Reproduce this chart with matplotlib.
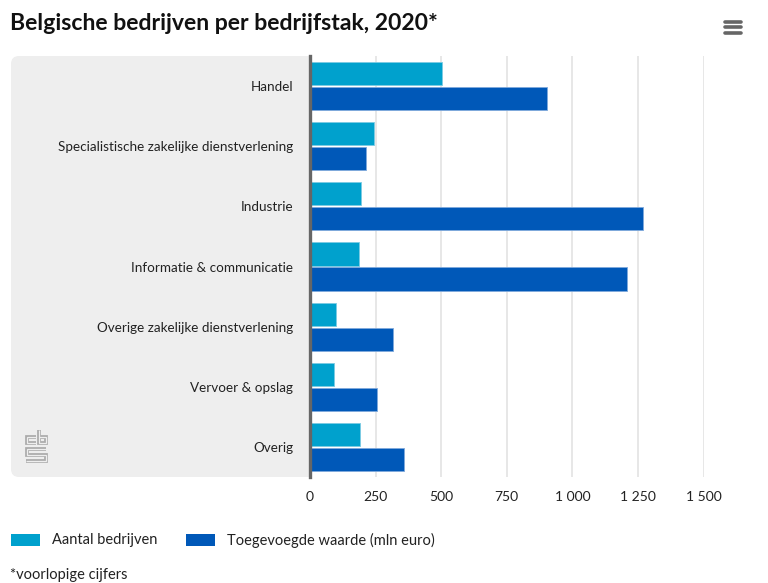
import matplotlib
matplotlib.use("Agg")
import matplotlib.pyplot as plt
from matplotlib.patches import FancyBboxPatch, Rectangle

categories = ["Handel", "Specialistische zakelijke dienstverlening", "Industrie",
              "Informatie & communicatie", "Overige zakelijke dienstverlening",
              "Vervoer & opslag", "Overig"]
aantal = [505, 244, 194, 185, 98, 90, 190]
waarde = [903, 213, 1269, 1208, 316, 254, 358]
ticks = [0, 250, 500, 750, 1000, 1250, 1500]
tick_labels = ["0", "250", "500", "750", "1 000", "1 250", "1 500"]
names = ["Aantal bedrijven", "Toegevoegde waarde (mln euro)"]
title = "Belgische bedrijven per bedrijfstak, 2020*"
note = "*voorlopige cijfers"

C1, C2 = "#00A1CD", "#0058B8"
TXT = "#222222"
plt.rcParams["font.family"] = ["Lato", "DejaVu Sans"]

W, H = 768, 583
fig = plt.figure(figsize=(W/100, H/100), dpi=100, facecolor="white")

bg = fig.add_axes([0, 0, 1, 1], zorder=0)
bg.set_xlim(0, W); bg.set_ylim(H, 0); bg.axis("off")
bg.add_patch(FancyBboxPatch((11, 56), 30, 421, boxstyle="round,pad=0,rounding_size=8",
                            fc="#EEEEEE", ec="none"))
bg.add_patch(Rectangle((20, 56), 290, 421, fc="#EEEEEE", ec="none"))
bg.text(10, 23, title, fontsize=16.6, fontweight="bold", color="#111111", va="center", ha="left")
for y in (21.5, 27, 33):
    bg.plot([725, 741], [y, y], color="#666666", lw=2.6, solid_capstyle="round")

logo_paths = [([35.5, 27, 27, 35.5], [437, 437, 442.5, 442.5]),
              ([39, 39, 45.5, 45.5, 39], [430, 442.5, 442.5, 437, 437]),
              ([46, 27, 27, 45.5, 45.5, 26], [448.5, 448.5, 454.5, 454.5, 460.5, 460.5])]
for lw, col in ((2.7, "#ABABAB"), (0.9, "#EEEEEE")):
    for xs, ys in logo_paths:
        bg.plot(xs, ys, color=col, lw=lw, solid_capstyle="butt", solid_joinstyle="miter")

ax = fig.add_axes([310/W, 1-477/H, (703.5-310)/W, (477-56)/H], zorder=1)
ax.patch.set_alpha(0)
ypos = list(range(len(categories)))
h = 0.385
ax.barh([y-0.208 for y in ypos], aantal, height=h, color=C1, edgecolor="#7CCBE3", lw=0.6, zorder=3)
ax.barh([y+0.208 for y in ypos], waarde, height=h, color=C2, edgecolor="#7FA9DB", lw=0.6, zorder=3)
ax.set_xlim(0, 1500); ax.set_ylim(len(categories)-0.5, -0.5)
ax.set_xticks(ticks); ax.set_xticklabels(tick_labels)
ax.set_yticks(ypos); ax.set_yticklabels(categories)
ax.xaxis.grid(True, color="#E0E0E0", lw=1.1, zorder=0); ax.set_axisbelow(True)
for s in ("top", "right", "bottom"):
    ax.spines[s].set_visible(False)
ax.spines["left"].set_color("#666666"); ax.spines["left"].set_linewidth(2.4); ax.spines["left"].set_zorder(5)
ax.tick_params(axis="x", length=0, labelsize=10, labelcolor=TXT, pad=10)
ax.tick_params(axis="y", length=0, labelsize=9.7, labelcolor=TXT, pad=12)

bg.add_patch(Rectangle((11, 534), 29, 12, fc=C1, ec="none"))
bg.add_patch(Rectangle((186, 534), 29, 12, fc=C2, ec="none"))
bg.text(52, 540, names[0], fontsize=10.5, color=TXT, va="center")
bg.text(227, 540, names[1], fontsize=10.5, color=TXT, va="center")
bg.text(10, 575, note, fontsize=10.5, color=TXT, va="center")

fig.savefig("out.png", dpi=100, facecolor="white")
